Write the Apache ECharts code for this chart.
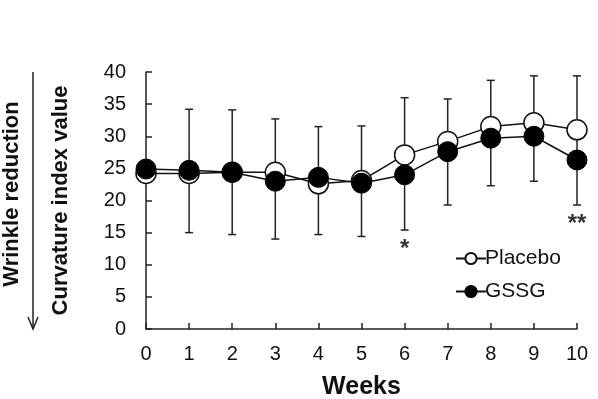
<!DOCTYPE html>
<html>
<head>
<meta charset="utf-8">
<script src="https://cdn.jsdelivr.net/npm/echarts@6/dist/echarts.min.js"></script>
<style>
  html, body { margin: 0; padding: 0; background: #fff; }
  #chart { width: 598px; height: 399px; }
</style>
</head>
<body>
<div id="chart"></div>
<script>
// weeks on the x axis
const weeks = [0, 1, 2, 3, 4, 5, 6, 7, 8, 9, 10];
// curvature index value
const placebo = [24.2, 24.2, 24.4, 24.4, 22.6, 23.1, 27.1, 29.2, 31.5, 32.1, 31.0];
const gssg = [24.9, 24.7, 24.4, 23.0, 23.6, 22.7, 24.0, 27.6, 29.7, 30.0, 26.3];
// error bar ends (week 0 has none visible)
const errHigh = [null, 34.2, 34.1, 32.7, 31.5, 31.6, 36.0, 35.8, 38.7, 39.4, 39.4];
const errLow = [null, 15.0, 14.7, 14.0, 14.7, 14.4, 15.4, 19.3, 22.3, 23.0, 19.3];
// significance marks
const sigWeeks = [6, 10];
const sigMarks = ["*", "**"];

const font = "'Liberation Sans', Arial, sans-serif";
const ink = "#111";

const chart = echarts.init(document.getElementById("chart"));

const errData = [];
weeks.forEach((w, i) => {
  if (errHigh[i] != null) errData.push([w, errLow[i], errHigh[i]]);
});
const sigData = sigWeeks.map((w) => [w, errLow[weeks.indexOf(w)]]);

chart.setOption({
  animation: false,
  grid: { left: 146, right: 21, top: 72, bottom: 70, containLabel: false, outerBoundsMode: "none" },
  textStyle: { fontFamily: font },
  legend: {
    orient: "vertical",
    left: 450,
    top: 243,
    itemWidth: 30,
    itemHeight: 14,
    itemGap: 12,
    data: ["Placebo", "GSSG"],
    textStyle: { fontSize: 21, color: ink, fontFamily: font, padding: [0, 0, 0, -6] }
  },
  xAxis: {
    type: "value",
    min: 0,
    max: 10,
    interval: 1,
    name: "Weeks",
    nameLocation: "middle",
    nameGap: 46,
    nameTextStyle: { fontSize: 25, fontWeight: "bold", color: ink, fontFamily: font },
    axisLine: { lineStyle: { color: "#222", width: 1.5 } },
    axisTick: { inside: true, length: 6, lineStyle: { color: "#222", width: 1.5 } },
    axisLabel: { fontSize: 20, color: ink, margin: 15, fontFamily: font },
    splitLine: { show: false }
  },
  yAxis: {
    type: "value",
    min: 0,
    max: 40,
    interval: 5,
    name: "Curvature index value",
    nameLocation: "middle",
    nameRotate: 90,
    nameGap: 74,
    nameTextStyle: { fontSize: 22, fontWeight: "bold", color: ink, fontFamily: font },
    axisLine: { show: true, lineStyle: { color: "#222", width: 1.5 } },
    axisTick: { show: true, inside: true, length: 6, lineStyle: { color: "#222", width: 1.5 } },
    axisLabel: { fontSize: 20, color: ink, margin: 20, fontFamily: font },
    splitLine: { show: false }
  },
  graphic: [
    {
      type: "text",
      x: 12,
      y: 194,
      rotation: Math.PI / 2,
      style: {
        text: "Wrinkle reduction",
        font: "bold 22px " + font,
        fill: ink,
        align: "center",
        verticalAlign: "middle"
      }
    },
    {
      type: "group",
      children: [
        { type: "line", shape: { x1: 33, y1: 72, x2: 33, y2: 329 }, style: { stroke: "#222", lineWidth: 1.5 } },
        { type: "polyline", shape: { points: [[28, 317], [33, 329], [38, 317]] }, style: { stroke: "#222", lineWidth: 1.5, fill: null } }
      ]
    }
  ],
  series: [
    {
      name: "err",
      type: "custom",
      z: 1,
      data: errData,
      renderItem: function (params, api) {
        const x = api.value(0);
        const lo = api.coord([x, api.value(1)]);
        const hi = api.coord([x, api.value(2)]);
        const cap = 4;
        const st = { stroke: "#222", lineWidth: 1.5 };
        return {
          type: "group",
          children: [
            { type: "line", shape: { x1: lo[0], y1: lo[1], x2: hi[0], y2: hi[1] }, style: st },
            { type: "line", shape: { x1: hi[0] - cap, y1: hi[1], x2: hi[0] + cap, y2: hi[1] }, style: st },
            { type: "line", shape: { x1: lo[0] - cap, y1: lo[1], x2: lo[0] + cap, y2: lo[1] }, style: st }
          ]
        };
      }
    },
    {
      name: "Placebo",
      type: "line",
      z: 3,
      data: weeks.map((w, i) => [w, placebo[i]]),
      symbol: "circle",
      symbolSize: 20,
      lineStyle: { color: "#111", width: 1.5 },
      itemStyle: { color: "#fff", borderColor: "#111", borderWidth: 1.5 }
    },
    {
      name: "GSSG",
      type: "line",
      z: 4,
      data: weeks.map((w, i) => [w, gssg[i]]),
      symbol: "circle",
      symbolSize: 20,
      lineStyle: { color: "#111", width: 1.5 },
      itemStyle: { color: "#000", borderColor: "#000", borderWidth: 1 }
    },
    {
      name: "sig",
      type: "scatter",
      z: 5,
      symbolSize: 0,
      data: sigData,
      label: {
        show: true,
        position: "bottom",
        distance: 7,
        fontSize: 24,
        fontWeight: "bold",
        color: "#000",
        fontFamily: font,
        formatter: (p) => sigMarks[p.dataIndex]
      }
    }
  ]
});
</script>
</body>
</html>
